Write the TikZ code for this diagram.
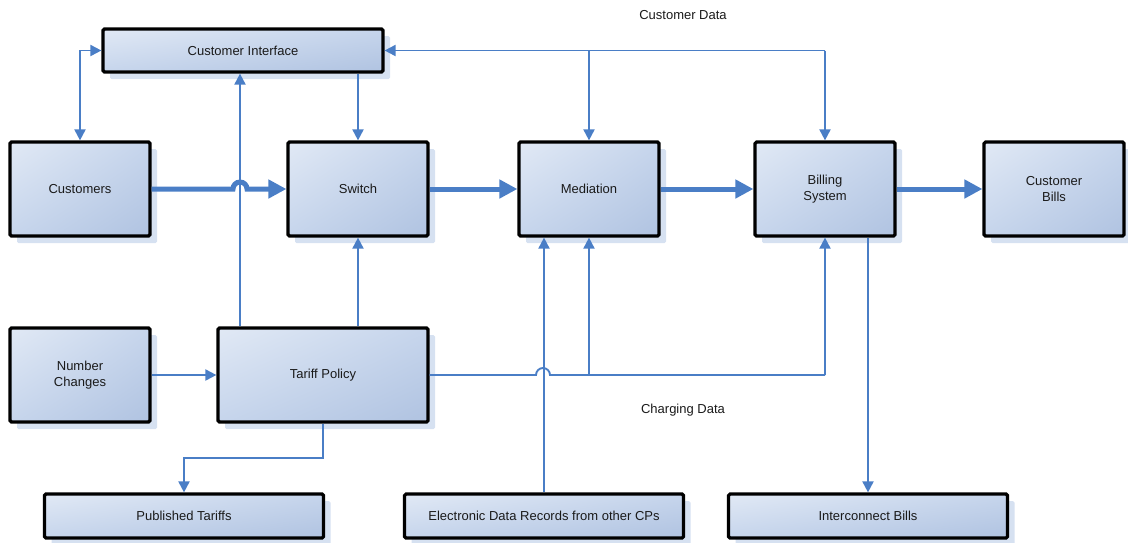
\documentclass[tikz,border=0pt]{standalone}
\usepackage{fontspec}
\setmainfont{Liberation Sans}
\usetikzlibrary{arrows.meta,shadows,shadings}
\definecolor{flow}{HTML}{4A7EC6}
\definecolor{boxlight}{HTML}{E1E9F5}
\definecolor{boxmid}{HTML}{C6D5EC}
\definecolor{boxdark}{HTML}{B0C3E1}
\definecolor{shadowblue}{HTML}{D6E1F1}
\definecolor{ink}{HTML}{1A1A1A}
\tikzset{
  box/.style={draw=black, line width=3.2pt, rounded corners=1.5pt,
    upper left=boxlight, upper right=boxmid, lower left=boxmid, lower right=boxdark,
    drop shadow={shadow xshift=7pt, shadow yshift=-7pt, fill=shadowblue, opacity=1},
    align=center, text=ink, font=\fontsize{13}{15.5}\selectfont, inner sep=0pt},
  bigbox/.style={box, minimum width=140pt, minimum height=94pt},
  barbox/.style={box, minimum width=279pt, minimum height=44pt},
  conn/.style={draw=flow, line width=1.9pt, -{Triangle[length=11pt,width=11pt]}},
  both/.style={conn, {Triangle[length=11pt,width=11pt]}-{Triangle[length=11pt,width=11pt]}},
  plain/.style={draw=flow, line width=1.9pt},
  main/.style={draw=flow, line width=5pt, -{Triangle[length=18pt,width=18pt]}},
  caption/.style={text=ink, font=\fontsize{13}{15.5}\selectfont}
}
\begin{document}
\begin{tikzpicture}[x=1pt, y=-1pt]
\useasboundingbox (0,0) rectangle (1128,542);

% boxes
\node[box, minimum width=280pt, minimum height=43pt] (ci) at (243,50.5) {Customer Interface};
\node[bigbox] (cust) at (80,189) {Customers};
\node[bigbox] (sw) at (358,189) {Switch};
\node[bigbox] (med) at (589,189) {Mediation};
\node[bigbox] (bill) at (825,189) {Billing\\System};
\node[bigbox] (bills) at (1054,189) {Customer\\Bills};
\node[bigbox] (nc) at (80,375) {Number\\Changes};
\node[box, minimum width=210pt, minimum height=94pt] (tariff) at (323,375) {Tariff Policy};
\node[barbox] (pub) at (184,516) {Published Tariffs};
\node[barbox] (edr) at (544,516) {Electronic Data Records from other CPs};
\node[barbox] (ic) at (868,516) {Interconnect Bills};

% free labels
\node[caption] (cdata) at (683,15) {Customer Data};
\node[caption] (chdata) at (683,410) {Charging Data};

% junction points
\coordinate (cdj) at (bill.north |- ci.east);
\coordinate (cdm) at (med.north |- ci.east);
\coordinate (tpj) at (bill.south |- tariff.east);
\coordinate (tpm) at (med.south |- tariff.east);
\coordinate (tpup) at ([xshift=-83pt]tariff.north);
\coordinate (tpsw) at (sw.south |- tariff.north);

% customer data bus
\draw[both] (cust.north) |- (ci.west);
\draw[conn] (cdj) -- (ci.east);
\draw[conn] (cdj) -- (bill.north);
\draw[conn] (cdm) -- (med.north);
\draw[conn] (ci.south -| sw.north) -- (sw.north);

% tariff policy feeds
\draw[conn] (tpup) -- (tpup |- ci.south);
\draw[conn] (tpsw) -- (sw.south);
\draw[conn] (nc.east) -- (tariff.west);
\draw[conn] (tariff.south) -- ++(0,34) -| (pub.north);
\draw[plain] (tariff.east) -- (536,375) arc[start angle=180, end angle=0, radius=7pt] -- (tpj);
\draw[conn] (tpj) -- (bill.south);
\draw[conn] (tpm) -- (med.south);
\draw[conn] (edr.north) -- (edr.north |- med.south);
\draw[conn] (ic.north |- bill.south) -- (ic.north);

% main flow
\draw[main] (cust.east) -- (233,189) arc[start angle=180, end angle=0, radius=7pt] -- (sw.west);
\draw[main] (sw.east) -- (med.west);
\draw[main] (med.east) -- (bill.west);
\draw[main] (bill.east) -- (bills.west);
\end{tikzpicture}
\end{document}
